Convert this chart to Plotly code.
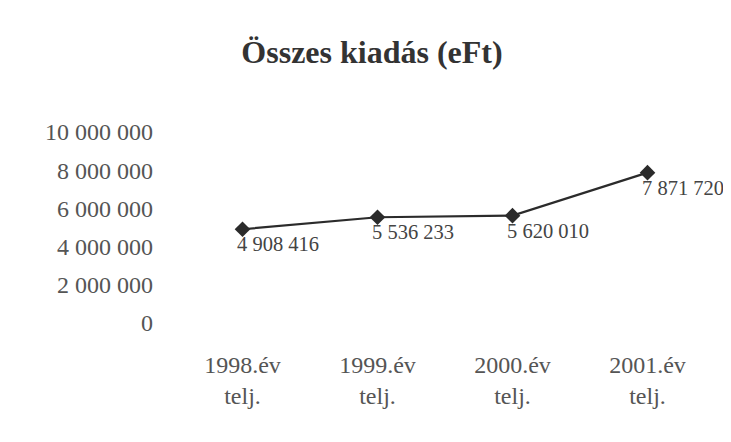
import plotly.graph_objects as go

categories = ["1998.év<br>telj.", "1999.év<br>telj.", "2000.év<br>telj.", "2001.év<br>telj."]
values = [4908416, 5536233, 5620010, 7871720]
tick_vals = [0, 2000000, 4000000, 6000000, 8000000, 10000000]
tick_text = ["0", "2 000 000", "4 000 000", "6 000 000", "8 000 000", "10 000 000"]

labels = ["{:,}".format(v).replace(",", " ") for v in values]

font = "Liberation Serif, Times New Roman, serif"

# page body has an 8px default margin on every side: size the figure to fit inside the window
W, H = 715, 426

fig = go.Figure(go.Scatter(
    x=categories, y=values, mode="lines+markers",
    line=dict(color="#2b2b2b", width=2.2),
    marker=dict(symbol="diamond", size=12, color="#2b2b2b"),
    cliponaxis=False, hoverinfo="skip"))

for c, v, t in zip(categories, values, labels):
    fig.add_annotation(x=c, y=v, text=t, showarrow=False,
                       xanchor="left", yanchor="middle", xshift=-8, yshift=-15,
                       font=dict(family=font, size=20.5, color="#444444"))

fig.update_layout(
    width=W, height=H,
    margin=dict(l=167, r=8, t=124, b=111),
    paper_bgcolor="white", plot_bgcolor="white",
    showlegend=False,
    title=dict(text="<b>Összes kiadás (eFt)</b>", x=364/W, xanchor="center",
               y=1-44/H, yanchor="middle",
               font=dict(family=font, size=32, color="#333333")),
    font=dict(family=font, size=24, color="#555555"),
)
fig.update_xaxes(range=[-0.5, 3.5], showgrid=False, showline=False, zeroline=False,
                 ticklabelstandoff=25,
                 tickfont=dict(family=font, size=24, color="#555555"), ticks="")
fig.update_yaxes(range=[0, 10000000], tickvals=tick_vals, ticktext=tick_text,
                 showgrid=False, zeroline=False, showline=False, ticks="",
                 ticklabelstandoff=21,
                 tickfont=dict(family=font, size=24, color="#555555"))

fig.write_html("out.html")
